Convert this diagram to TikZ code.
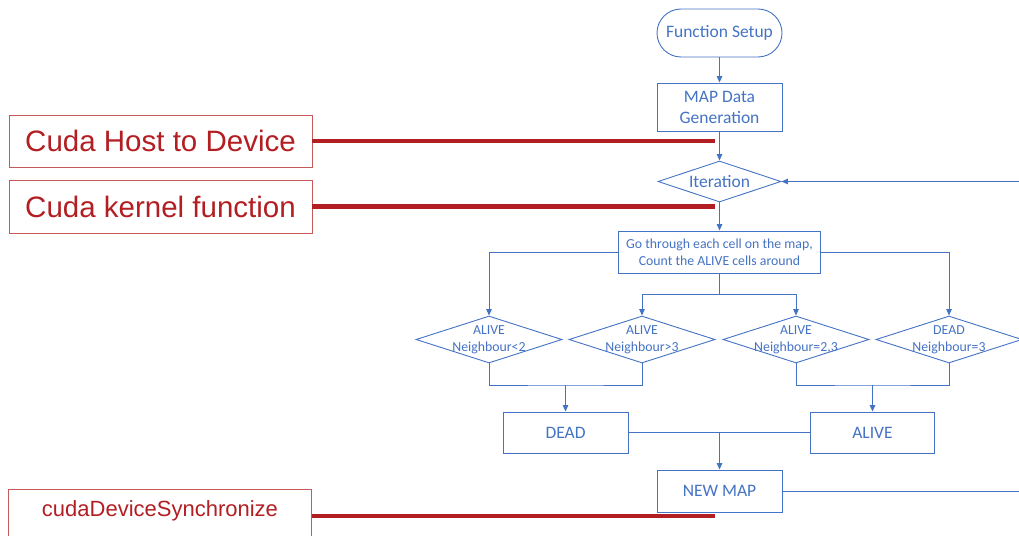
\documentclass[tikz,border=0pt]{standalone}
\usepackage{fontspec}
\setmainfont{Carlito}
\newfontfamily\arialfont{Liberation Sans}
\usetikzlibrary{arrows.meta,shapes.geometric}
\definecolor{flowblue}{HTML}{4472C4}
\definecolor{cudared}{HTML}{B21E22}
\definecolor{cudaedge}{HTML}{C55A5A}
\begin{document}
\begin{tikzpicture}[x=1pt,y=-1pt,
  bigtext/.style={font=\fontsize{17.5}{21}\selectfont},
  smalltext/.style={font=\fontsize{13.8}{17}\selectfont},
  procbox/.style={rectangle, draw=flowblue, line width=0.9pt, text=flowblue,
    align=center, inner sep=0pt},
  startstop/.style={procbox, rounded corners=24pt},
  cond/.style={diamond, draw=flowblue, line width=0.9pt, inner sep=0pt},
  condtext/.style={text=flowblue, align=center, inner sep=0pt},
  link/.style={draw=flowblue, line width=1pt, -{Triangle[length=6.5pt,width=5.5pt]}},
  joint/.style={draw=flowblue, line width=1pt},
  cudabox/.style={rectangle, draw=cudaedge, line width=0.9pt, text=cudared,
    minimum width=303pt, inner sep=0pt},
  cudaline/.style={draw=cudared, line width=4.5pt}]

\useasboundingbox (0,0) rectangle (1019,535);
\clip (0,0) rectangle (1019,535);

% main flow column
\node[startstop, bigtext, minimum width=125pt, minimum height=48pt] (setup) at (719.5,33) {Function Setup};
\node[procbox, bigtext, minimum width=125pt, minimum height=48pt] (mapgen) at (719.5,107) {MAP Data\\Generation};
\node[cond, minimum width=123pt, minimum height=41pt] (iter) at (719.5,181.5) {};
\node[condtext, bigtext] (itertext) at (iter) {Iteration};
\node[procbox, smalltext, minimum width=202pt, minimum height=42pt] (scan) at (719.5,252) {Go through each cell on the map,\\Count the ALIVE cells around};

% the four rules
\node[cond, minimum width=146pt, minimum height=47pt] (rlow)  at (489,339.5) {};
\node[cond, minimum width=146pt, minimum height=47pt] (rhigh) at (642,339.5) {};
\node[cond, minimum width=146pt, minimum height=47pt] (rkeep) at (796,339.5) {};
\node[cond, minimum width=146pt, minimum height=47pt] (rborn) at (949,339.5) {};
\node[condtext, smalltext] (rlowtext)  at (rlow)  {ALIVE\\Neighbour<2};
\node[condtext, smalltext] (rhightext) at (rhigh) {ALIVE\\Neighbour>3};
\node[condtext, smalltext] (rkeeptext) at (rkeep) {ALIVE\\Neighbour=2,3};
\node[condtext, smalltext] (rborntext) at (rborn) {DEAD\\Neighbour=3};

% outcomes
\node[procbox, bigtext, minimum width=125pt, minimum height=41pt] (dead)  at (565.5,432.5) {DEAD};
\node[procbox, bigtext, minimum width=124pt, minimum height=41pt] (alive) at (872.5,432.5) {ALIVE};
\node[procbox, bigtext, minimum width=125pt, minimum height=42pt] (newmap) at (719.5,491) {NEW MAP};

% connectors
\draw[link] (setup) -- (mapgen);
\draw[link] (mapgen) -- (iter);
\draw[link] (iter) -- (scan);
\draw[link] (scan.west) -| (rlow.north);
\draw[link] (scan.east) -| (rborn.north);
\coordinate (split) at (719.5,294);
\draw[joint] (scan.south) -- (split);
\draw[link] (split) -| (rhigh.north);
\draw[link] (split) -| (rkeep.north);

\coordinate (deadjoin) at (565.5,385);
\coordinate (alivejoin) at (872.5,385);
\draw[joint] (rlow.south) |- (deadjoin) -| (rhigh.south);
\draw[link] (deadjoin) -- (dead.north);
\draw[joint] (rkeep.south) |- (alivejoin) -| (rborn.south);
\draw[link] (alivejoin) -- (alive.north);

\coordinate (merge) at (719.5,432.5);
\draw[joint] (dead.east) -- (alive.west);
\draw[link] (merge) -- (newmap.north);

% loop back to the next iteration
\draw[link] (newmap.east) -- ++(330,0) |- (iter.east);

% CUDA stages
\node[cudabox, minimum height=52pt, font=\arialfont\fontsize{29.5}{34}\selectfont] (host) at (160.5,141) {Cuda Host to Device};
\node[cudabox, minimum height=53pt, font=\arialfont\fontsize{29.5}{34}\selectfont] (kernel) at (160.5,206.5) {Cuda kernel function};
\node[cudabox, anchor=north, text height=27pt, text depth=26pt, font=\arialfont\fontsize{22}{26}\selectfont] (sync) at (160,489) {cudaDeviceSynchronize};

\coordinate (tap) at (715,0);
\draw[cudaline] (host.east) -- (host.east -| tap);
\draw[cudaline] (kernel.east) -- (kernel.east -| tap);
\draw[cudaline] (sync.east) -- (sync.east -| tap);
\end{tikzpicture}
\end{document}
